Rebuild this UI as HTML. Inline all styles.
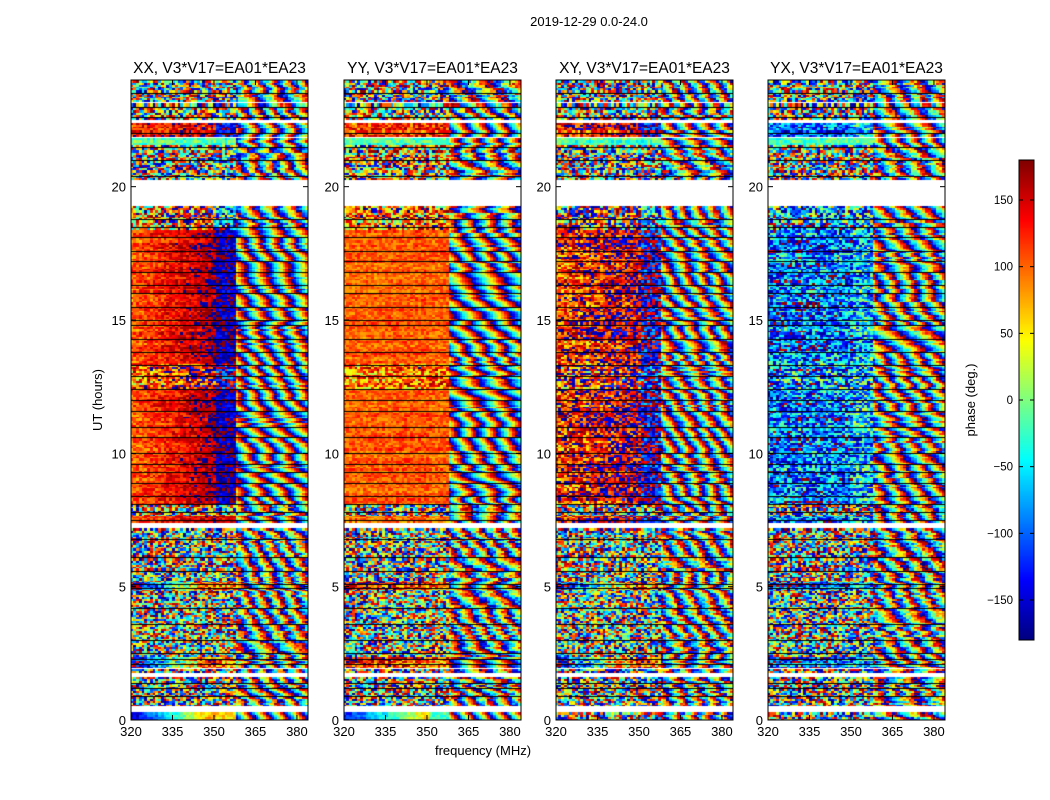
<!DOCTYPE html>
<html><head><meta charset="utf-8">
<style>
body{margin:0;background:#fff;width:1050px;height:800px;overflow:hidden;font-family:"Liberation Sans",sans-serif;}
#wrap{position:relative;width:1050px;height:800px;}
canvas{position:absolute;}
svg{position:absolute;left:0;top:0;}
</style></head>
<body>
<div id="wrap">
<svg id="ax" width="1050" height="800"></svg>
</div>
<script>
// ---- data ----
const panelTitles = ["XX, V3*V17=EA01*EA23","YY, V3*V17=EA01*EA23","XY, V3*V17=EA01*EA23","YX, V3*V17=EA01*EA23"];
const segStart = [0,0.3,0.56,1.6,1.8,1.9,2.0,2.4,4.9,5.2,7.2,7.4,7.7,8.1,12.4,13.4,18.4,19.25,20.25,21.6,21.8,21.9,22.4,22.5,23.1,23.2];
const segEnd   = [0.3,0.56,1.6,1.8,1.9,2.0,2.4,4.9,5.2,7.2,7.4,7.7,8.1,12.4,13.4,18.4,19.25,20.25,21.6,21.8,21.9,22.4,22.5,23.1,23.2,24];
const segGap   = [0,1,0,1,0,1,0,0,0,0,1,0,0,0,0,0,0,1,0,0,1,0,1,0,1,0];
const phL_XX = [-160,0,0,0,0,0,-170,0,-170,0,0,100,0,100,90,100,40,0,0,-20,0,120,0,0,0,0];
const phM_XX = [100,0,0,0,0,0,150,0,150,0,0,160,0,170,160,170,140,0,0,-20,0,150,0,0,0,0];
const phB_XX = [60,0,0,0,0,0,100,0,100,0,0,150,0,-160,-150,-160,-100,0,0,-20,0,-150,0,0,0,0];
const amp_XX = [0.15,0,1,0,1,0,0.4,0.9,0.4,1,0,0.2,1,0.2,0.5,0.2,0.7,0,1,0.2,0,0.3,0,1,0,1];
const phL_YY = [-140,0,30,0,30,0,150,30,150,30,0,100,60,100,90,100,80,0,80,-20,0,100,0,60,0,30];
const phM_YY = [60,0,30,0,30,0,120,30,120,30,0,110,60,105,100,105,90,0,80,-20,0,110,0,60,0,30];
const phB_YY = [-20,0,30,0,30,0,100,30,100,30,0,100,60,100,100,100,90,0,80,-20,0,110,0,60,0,30];
const amp_YY = [0.15,0,1,0,1,0,0.4,0.9,0.4,1,0,0.2,1,0.15,0.4,0.15,0.6,0,0.8,0.2,0,0.3,0,0.9,0,1];
const phL_XY = [0,0,0,0,0,0,-170,0,-170,0,0,110,0,120,110,120,100,0,0,-20,0,120,0,0,0,0];
const phM_XY = [0,0,0,0,0,0,150,0,150,0,0,170,0,165,160,165,150,0,0,-20,0,150,0,0,0,0];
const phB_XY = [0,0,0,0,0,0,100,0,100,0,0,-150,0,-150,-140,-150,-100,0,0,-20,0,-150,0,0,0,0];
const amp_XY = [1,0,1,0,1,0,0.5,0.9,0.5,1,0,0.45,1,0.45,0.6,0.45,0.8,0,1,0.2,0,0.4,0,1,0,1];
const phL_YX = [0,0,-40,0,-40,0,-120,-40,-120,-40,0,-100,-40,-100,-90,-100,-90,0,-60,-20,0,-100,0,-40,0,-40];
const phM_YX = [0,0,-40,0,-40,0,-100,-40,-100,-40,0,-90,-40,-90,-80,-90,-80,0,-60,-20,0,-90,0,-40,0,-40];
const phB_YX = [0,0,-40,0,-40,0,-60,-40,-60,-40,0,-60,-40,-60,-60,-60,-60,0,-60,-20,0,-60,0,-40,0,-40];
const amp_YX = [1,0,1,0,1,0,0.5,0.9,0.5,1,0,0.5,1,0.5,0.6,0.5,0.7,0,1,0.2,0,0.4,0,1,0,1];
const fringeRate = [45,40,45,40];
const scanBreaks = [0.9,1.2,1.4,2.1,2.3,2.5,3.0,3.6,4.2,4.95,5.1,5.6,6.1,6.8,7.5,7.8,8.1,8.4,8.9,9.3,9.6,10.0,10.6,11.0,11.6,12.0,12.4,12.9,13.3,13.8,14.3,14.8,15.0,15.5,16.0,16.3,16.8,17.2,17.6,18.1,18.5,18.8,20.4,21.0,21.5,22.0,22.6,23.0,23.5];
const yTicks = [0,5,10,15,20];
const xTicks = [320,335,350,365,380];
const cbTicks = [-150,-100,-50,0,50,100,150];

// ---- layout ----
const panelX = [131,344,556,768], PW=177, PT=80, PB=720;
const fMin=320,fMax=384,tMin=0,tMax=24;
const xs=(i,f)=>panelX[i]+(f-fMin)/(fMax-fMin)*PW;
const ys=t=>PB-(t-tMin)/(tMax-tMin)*(PB-PT);
const panels=[[phL_XX,phM_XX,phB_XX,amp_XX],[phL_YY,phM_YY,phB_YY,amp_YY],[phL_XY,phM_XY,phB_XY,amp_XY],[phL_YX,phM_YX,phB_YX,amp_YX]];

function jet(v){
  let x=(v+180)/360; const c=a=>Math.max(0,Math.min(1,a));
  return [c(1.5-Math.abs(4*x-3))*255|0,c(1.5-Math.abs(4*x-2))*255|0,c(1.5-Math.abs(4*x-1))*255|0];
}
function hash(a,b,c){let h=(a*374761393+b*668265263+c*2147483647)|0;h=(h^(h>>>13))*1274126177|0;h^=h>>>16;return ((h>>>0)%10000)/10000;}
const wrap=v=>((v+180)%360+360)%360-180;
function scanIdx(t){let k=0;for(const b of scanBreaks){if(t>b)k++;}return k;}

const wrapDiv=document.getElementById('wrap');
const NT=640, NF=64;
for(let p=0;p<4;p++){
  const cv=document.createElement('canvas');
  
  
  cv.width=PW;cv.height=PB-PT;cv.style.left=panelX[p]+'px';cv.style.top=PT+'px';
  wrapDiv.insertBefore(cv,wrapDiv.firstChild);
  const ctx=cv.getContext('2d');
  ctx.fillStyle='#fff';ctx.fillRect(0,0,PW,PB-PT);
  const [L,M,B,A]=panels[p];
  for(let s=0;s<segStart.length;s++){
    if(segGap[s])continue;
    for(let ti=0;ti<NT;ti++){
      const t0=ti*24/NT,t1=(ti+1)*24/NT,tc=(t0+t1)/2;
      if(tc<segStart[s]||tc>=segEnd[s])continue;
      const sc=scanIdx(tc);
      const scOff=hash(sc,3,p)*360, scRate=0.7+0.8*hash(sc,5,p);
      const rowN=(hash(ti>>1,11,p)*2-1)*60;
      for(let fi=0;fi<NF;fi++){
        const f=fMin+fi+0.5; let v;
        const cell=(hash(ti>>1,fi,p)*2-1)*180;
        const n=cell+rowN;
        if(f<351){v=L[s]+(M[s]-L[s])*(f-320)/31+A[s]*n;}
        else if(f<358){v=B[s]+A[s]*n;}
        else{v=B[s]+scOff+fringeRate[p]*scRate*(f-358)+400*tc+A[s]*0.3*cell+rowN;}
        const [r,g,b]=jet(wrap(v));
        ctx.fillStyle=`rgb(${r},${g},${b})`;
        const x0=(f-0.5-fMin)/(fMax-fMin)*PW,y0=(tMax-t1)/(tMax-tMin)*(PB-PT);
        ctx.fillRect(Math.floor(x0),Math.floor(y0),Math.ceil(PW/NF)+1,Math.ceil((PB-PT)/NT)+1);
      }
    }
  }
  ctx.fillStyle='#000';
  for(const t of scanBreaks){ctx.fillRect(0,Math.round((tMax-t)/(tMax-tMin)*(PB-PT)),PW,1);}
}

// ---- axes (svg) ----
const svg=document.getElementById('ax');
const NS='http://www.w3.org/2000/svg';
function mk(tag,attrs,parent){const e=document.createElementNS(NS,tag);for(const k in attrs)e.setAttribute(k,attrs[k]);(parent||svg).appendChild(e);return e;}
function txt(str,x,y,size,anchor,parent,rot){const e=mk('text',{x:x,y:y,'font-size':size,'text-anchor':anchor||'middle','font-family':'Liberation Sans, sans-serif',fill:'#000'},parent);if(rot)e.setAttribute('transform',`rotate(${rot} ${x} ${y})`);e.textContent=str;return e;}

const sup=txt('2019-12-29 0.0-24.0',589,26,13);


for(let p=0;p<4;p++){
  const g=mk('g',{});
  
  
  const tt=txt(panelTitles[p],panelX[p]+PW/2,73,15.5,'middle',g);
  
  
  mk('rect',{x:panelX[p],y:PT,width:PW,height:PB-PT,fill:'none',stroke:'#000','stroke-width':1},g);
  for(const t of yTicks){
    const y=ys(t);
    mk('line',{x1:panelX[p],x2:panelX[p]+5,y1:y,y2:y,stroke:'#000'},g);
    mk('line',{x1:panelX[p]+PW,x2:panelX[p]+PW-5,y1:y,y2:y,stroke:'#000'},g);
    const l=txt(String(t),panelX[p]-5,y+5,13,'end',g);
    
    
  }
  for(const f of xTicks){
    const x=xs(p,f);
    mk('line',{x1:x,x2:x,y1:PB,y2:PB-5,stroke:'#000'},g);
    mk('line',{x1:x,x2:x,y1:PT,y2:PT+5,stroke:'#000'},g);
    const l=txt(String(f),x,PB+16,13,'middle',g);
    
    
  }
}
const yl=txt('UT (hours)',102,400,13,'middle',null,-90);


const xl=txt('frequency (MHz)',483,755,13,'middle');



// colorbar
const CBX=1019,CBW=15,CBT=160,CBB=640;
const cb=document.createElement('canvas');


cb.width=CBW;cb.height=CBB-CBT;cb.style.left=CBX+'px';cb.style.top=CBT+'px';
wrapDiv.insertBefore(cb,wrapDiv.firstChild);
const cc=cb.getContext('2d');
for(let i=0;i<CBB-CBT;i++){const v=180-(i+0.5)/(CBB-CBT)*360;const [r,g,b]=jet(v);cc.fillStyle=`rgb(${r},${g},${b})`;cc.fillRect(0,i,CBW,1);}
mk('rect',{x:CBX,y:CBT,width:CBW,height:CBB-CBT,fill:'none',stroke:'#000'});
const cby=v=>CBB-(v+180)/360*(CBB-CBT);
for(const v of cbTicks){
  const y=cby(v);
  mk('line',{x1:CBX,x2:CBX+4,y1:y,y2:y,stroke:'#000'});
  mk('line',{x1:CBX+CBW,x2:CBX+CBW-4,y1:y,y2:y,stroke:'#000'});
  const l=txt(String(v).replace('-','\u2212'),1013,y+4,11.5,'end');
  
  
}
const cl=txt('phase (deg.)',975,400,13,'middle',null,-90);


</script>
</body></html>
